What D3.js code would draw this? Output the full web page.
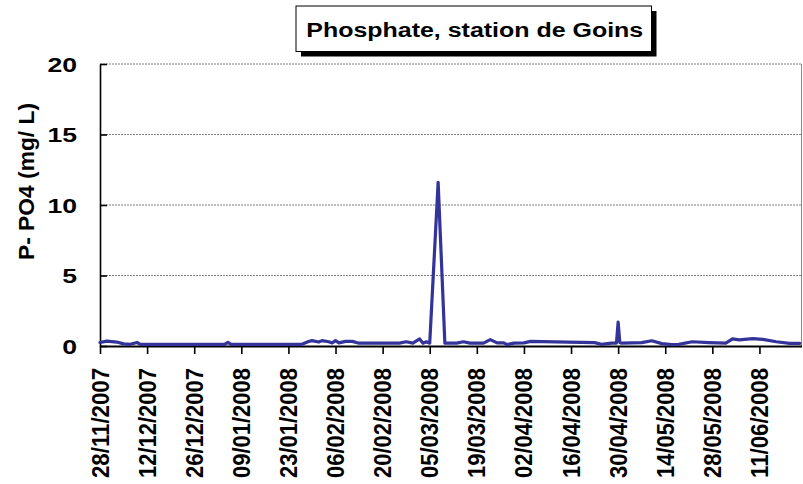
<!DOCTYPE html>
<html>
<head>
<meta charset="utf-8">
<script src="https://cdn.jsdelivr.net/npm/d3@7/dist/d3.min.js"></script>
<style>
  html, body { margin: 0; padding: 0; background: #fff; }
  svg { display: block; }
  text { font-family: "Liberation Sans", Arial, sans-serif; font-weight: bold; }
</style>
</head>
<body>
<svg id="chart" width="803" height="484"></svg>
<script>
// ---- data ----
const title = "Phosphate, station de Goins";
const yTitle = "P- PO4 (mg/ L)";
const sampleDates = [
  "28/11/2007", "30/11/2007", "03/12/2007", "05/12/2007", "07/12/2007", "09/12/2007", "10/12/2007",
  "04/01/2008", "05/01/2008", "06/01/2008", "27/01/2008", "29/01/2008", "30/01/2008",
  "01/02/2008", "02/02/2008", "04/02/2008", "05/02/2008", "06/02/2008", "07/02/2008",
  "09/02/2008", "11/02/2008", "13/02/2008", "25/02/2008", "27/02/2008", "29/02/2008",
  "02/03/2008", "03/03/2008", "04/03/2008", "05/03/2008", "07/03/2008 12:00", "09/03/2008 12:00",
  "13/03/2008", "15/03/2008", "17/03/2008", "21/03/2008", "23/03/2008", "25/03/2008",
  "27/03/2008", "28/03/2008", "30/03/2008", "02/04/2008", "04/04/2008", "15/04/2008",
  "23/04/2008", "25/04/2008", "28/04/2008", "29/04/2008 12:00", "30/04/2008 00:00", "30/04/2008 12:00",
  "01/05/2008", "07/05/2008", "10/05/2008", "13/05/2008", "16/05/2008", "18/05/2008",
  "22/05/2008", "27/05/2008", "01/06/2008", "03/06/2008", "05/06/2008", "09/06/2008",
  "12/06/2008", "16/06/2008", "20/06/2008", "23/06/2008"
];
const phosphate = [
  0.25, 0.35, 0.28, 0.15, 0.12, 0.25, 0.12,
  0.12, 0.25, 0.12, 0.12, 0.32, 0.38,
  0.28, 0.38, 0.30, 0.22, 0.38, 0.22,
  0.33, 0.33, 0.20, 0.20, 0.30, 0.20,
  0.50, 0.20, 0.30, 0.20, 11.6, 0.20,
  0.20, 0.30, 0.20, 0.20, 0.45, 0.22,
  0.22, 0.10, 0.20, 0.22, 0.33, 0.28,
  0.24, 0.12, 0.20, 0.20, 1.70, 0.25,
  0.20, 0.24, 0.37, 0.17, 0.10, 0.12,
  0.30, 0.24, 0.20, 0.50, 0.43, 0.52,
  0.47, 0.30, 0.19, 0.19
];
const xTickLabels = [
  "28/11/2007", "12/12/2007", "26/12/2007", "09/01/2008", "23/01/2008", "06/02/2008",
  "20/02/2008", "05/03/2008", "19/03/2008", "02/04/2008", "16/04/2008", "30/04/2008",
  "14/05/2008", "28/05/2008", "11/06/2008"
];
const xDomain = ["28/11/2007", "23/06/2008 12:00"];
const yTicks = [0, 5, 10, 15, 20];
const yDomain = [0, 20];

// ---- parsing ----
const pDT = d3.utcParse("%d/%m/%Y %H:%M");
const pD = d3.utcParse("%d/%m/%Y");
const parse = s => pDT(s) || pD(s);

const data = sampleDates.map((s, i) => ({ date: parse(s), value: phosphate[i] }));
const tickDates = xTickLabels.map(parse);

// ---- layout ----
const svg = d3.select("#chart");
const pLeft = 100, pRight = 801.5, pTop = 64, pBottom = 346;

const x = d3.scaleUtc().domain(xDomain.map(parse)).range([pLeft, pRight]);
const y = d3.scaleLinear().domain(yDomain).range([pBottom, pTop]);

// gridlines
svg.append("g").selectAll("line")
  .data(yTicks.filter(v => v > 0))
  .join("line")
  .attr("x1", pLeft).attr("x2", pRight)
  .attr("y1", d => y(d)).attr("y2", d => y(d))
  .attr("stroke", "#7f7f7f").attr("stroke-width", 1)
  .attr("stroke-dasharray", "2,1");

// right border
svg.append("line")
  .attr("x1", pRight).attr("x2", pRight).attr("y1", pTop).attr("y2", pBottom)
  .attr("stroke", "#8a8a8a").attr("stroke-width", 1);

// y axis
const gy = svg.append("g").attr("transform", `translate(${pLeft},0)`)
  .call(d3.axisLeft(y).tickValues(yTicks).tickSizeInner(-7).tickSizeOuter(0).tickPadding(23));
gy.select(".domain").attr("stroke", "#000").attr("stroke-width", 1.6);
gy.selectAll(".tick line").attr("stroke", "#000").attr("stroke-width", 1.6);
gy.selectAll(".tick text")
  .attr("font-size", 20).attr("font-family", null).attr("fill", "#000")
  .attr("dy", "0.35em")
  .attr("textLength", d => String(d).length * 14.8)
  .attr("lengthAdjust", "spacingAndGlyphs");

// x axis
const gx = svg.append("g").attr("transform", `translate(0,${pBottom})`)
  .call(d3.axisBottom(x).tickValues(tickDates).tickSizeInner(8).tickSizeOuter(0)
    .tickFormat((d, i) => xTickLabels[i]));
gx.select(".domain").attr("stroke", "#000").attr("stroke-width", 2);
gx.selectAll(".tick line").attr("stroke", "#000").attr("stroke-width", 1.6);
gx.selectAll(".tick text")
  .attr("font-size", 23).attr("font-family", null).attr("fill", "#000")
  .attr("transform", "rotate(-90)")
  .attr("text-anchor", "end")
  .attr("x", -22).attr("y", 8).attr("dy", 0)
  .attr("textLength", 110)
  .attr("lengthAdjust", "spacingAndGlyphs");

// line
const line = d3.line().x(d => x(d.date)).y(d => y(d.value));
svg.append("path")
  .datum(data)
  .attr("d", line)
  .attr("fill", "none")
  .attr("stroke", "#333399")
  .attr("stroke-width", 3.2)
  .attr("stroke-linejoin", "round")
  .attr("stroke-linecap", "round");

// y title
svg.append("text")
  .attr("transform", "translate(34,181.5) rotate(-90)")
  .attr("text-anchor", "middle")
  .attr("font-size", 22)
  .attr("textLength", 157)
  .attr("lengthAdjust", "spacingAndGlyphs")
  .text(yTitle);

// title box with shadow
const bx = 296, by = 6, bw = 355.5, bh = 45.5;
svg.append("rect").attr("x", bx + 5).attr("y", by + 5).attr("width", bw).attr("height", bh).attr("fill", "#000");
svg.append("rect").attr("x", bx).attr("y", by).attr("width", bw).attr("height", bh)
  .attr("fill", "#fff").attr("stroke", "#000").attr("stroke-width", 1);
svg.append("text")
  .attr("x", bx + bw / 2 + 1).attr("y", 37)
  .attr("text-anchor", "middle")
  .attr("font-size", 20)
  .attr("textLength", 337)
  .attr("lengthAdjust", "spacingAndGlyphs")
  .text(title);
</script>
</body>
</html>
